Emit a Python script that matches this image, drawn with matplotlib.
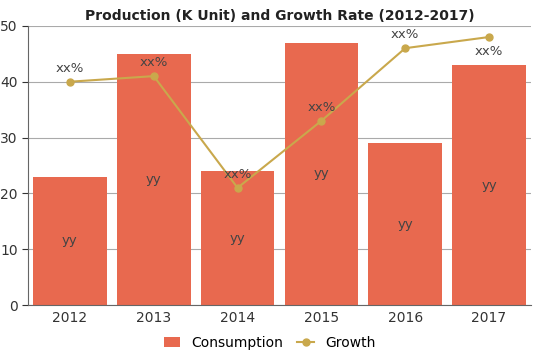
import numpy as np
import matplotlib.pyplot as plt

years = ['2012', '2013', '2014', '2015', '2016', '2017']
consumption = [23, 45, 24, 47, 29, 43]
growth = [40, 41, 21, 33, 46, 48]
bar_labels = ['yy'] * 6
growth_labels = ['xx%'] * 6

bar_color = '#E8694F'
line_color = '#C9A84C'

fig = plt.figure(figsize=(5.39, 3.59), dpi=100)
ax = fig.add_axes([0.052, 0.150, 0.933, 0.778])

x = np.arange(len(years))
bars = ax.bar(x, consumption, width=0.88, color=bar_color, label='Consumption', zorder=2)
line, = ax.plot(x, growth, color=line_color, marker='o', markersize=5, linewidth=1.5,
                label='Growth', zorder=3)

for xi, v, t in zip(x, consumption, bar_labels):
    ax.text(xi, v / 2, t, ha='center', va='center', fontsize=9.5, color='#444444', zorder=4)

for i, (xi, v, t) in enumerate(zip(x, growth, growth_labels)):
    if i == len(years) - 1:
        ax.text(xi, v - 1.5, t, ha='center', va='top', fontsize=9.5, color='#444444', zorder=4)
    else:
        ax.text(xi, v + 1.2, t, ha='center', va='bottom', fontsize=9.5, color='#444444', zorder=4)

ax.set_xlim(-0.5, 5.5)
ax.set_ylim(0, 50)
ax.set_yticks([0, 10, 20, 30, 40, 50])
ax.set_xticks(x)
ax.set_xticklabels(years)
ax.tick_params(axis='both', labelsize=10, colors='#333333', length=4)
ax.tick_params(axis='x', length=0, pad=4)
ax.grid(axis='y', color='#aaaaaa', linewidth=0.8, zorder=0)
for s in ['top', 'right']:
    ax.spines[s].set_visible(False)
ax.spines['left'].set_color('#666666')
ax.spines['bottom'].set_color('#666666')

ax.set_title('Production (K Unit) and Growth Rate (2012-2017)', fontsize=10,
             fontweight='heavy', color='#222222', pad=4,
             family=['Liberation Sans Narrow', 'DejaVu Sans'])

fig.legend([bars, line], ['Consumption', 'Growth'], loc='lower center', ncol=2,
           frameon=False, fontsize=10, bbox_to_anchor=(0.5, -0.01),
           handlelength=1.2, columnspacing=1.0)

fig.savefig('out.png', dpi=100)
